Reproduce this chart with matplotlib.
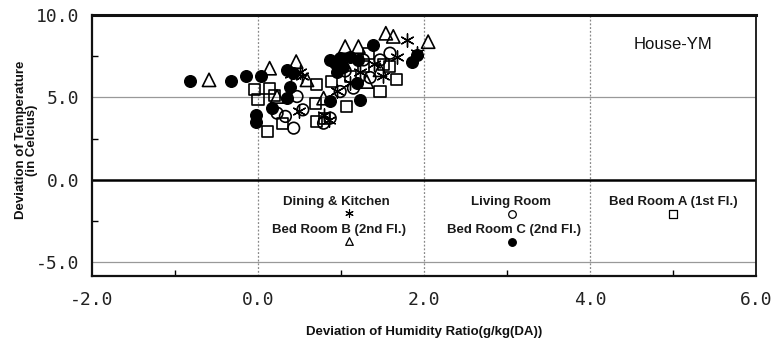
import matplotlib
matplotlib.use("Agg")
import matplotlib.pyplot as plt
from matplotlib.ticker import FixedLocator

# ---------------- data ----------------
# Dining & Kitchen (asterisk)
dk_x = [0.51, 0.53, 0.49, 0.79, 1.79, 1.23, 1.51, 1.67, 1.11, 1.91, 0.95, 1.40, 0.40, 0.85]
dk_y = [6.56, 6.30, 4.14, 3.94, 8.48, 6.56, 6.27, 7.47, 5.86, 7.68, 5.40, 7.00, 6.40, 3.60]
# Living Room (open circle)
lr_x = [0.43, 0.33, 0.47, 0.87, 0.79, 0.99, 1.15, 1.27, 1.47, 1.59, 0.23, 0.54, 1.05, 1.35]
lr_y = [3.13, 3.84, 5.05, 3.74, 3.43, 5.35, 5.56, 7.27, 7.27, 7.68, 4.04, 4.24, 6.60, 6.20]
# Bed Room A (1st Fl.) (open square)
ba_x = [-0.04, 0.00, 0.12, 0.14, 0.30, 0.71, 0.69, 0.71, 1.07, 1.47, 0.89, 1.11,
        1.59, 1.67, 1.27, 1.33, 1.51, 0.80, 0.20]
ba_y = [5.45, 4.85, 2.93, 5.56, 3.43, 5.76, 4.65, 3.53, 4.44, 5.35, 5.96, 6.27,
        6.87, 6.06, 6.87, 7.68, 6.97, 3.70, 5.10]
# Bed Room B (2nd Fl.) (open triangle)
bb_x = [-0.59, 0.14, 0.46, 0.23, 0.59, 1.05, 1.21, 1.54, 2.05, 1.47, 1.31, 0.79, 1.63]
bb_y = [6.06, 6.77, 7.17, 5.05, 6.06, 8.08, 8.08, 8.89, 8.38, 6.67, 5.96, 4.95, 8.70]
# Bed Room C (2nd Fl.) (filled circle)
bc_x = [-0.82, -0.33, -0.14, 0.04, -0.02, -0.02, 0.35, 0.39, 0.35, 0.17, 0.87,
        0.87, 0.99, 1.02, 1.19, 1.23, 1.39, 1.85, 0.95, 1.11, 1.91, 1.21, 0.42, 0.93]
bc_y = [6.02, 6.02, 6.30, 6.30, 3.94, 3.53, 6.67, 5.62, 4.97, 4.36, 4.75,
        7.27, 7.39, 6.87, 5.86, 4.85, 8.18, 7.17, 6.56, 7.47, 7.60, 7.27, 6.45, 7.10]

x_ticks = [-2.0, 0.0, 2.0, 4.0, 6.0]
y_ticks = [-5.0, 0.0, 5.0, 10.0]

# legend entries: label, text position, marker position
leg_labels = ["Dining & Kitchen", "Living Room", "Bed Room A (1st Fl.)",
              "Bed Room B (2nd Fl.)", "Bed Room C (2nd Fl.)"]
leg_text_x = [0.95, 3.05, 5.0, 0.98, 3.08]
leg_text_y = [-1.35, -1.35, -1.35, -3.05, -3.05]
leg_mark_x = [1.10, 3.06, 5.00, 1.10, 3.06]
leg_mark_y = [-2.05, -2.06, -2.06, -3.70, -3.80]

# ---------------- figure ----------------
fig = plt.figure(figsize=(7.76, 3.42), dpi=100)
ax = fig.add_axes([92/776, 1-276/342, (756-92)/776, (276-15)/342])

ax.set_xlim(-2, 6)
ax.set_ylim(-5.85, 10)

# grid lines
for gx in [0, 2, 4]:
    ax.axvline(gx, color="#888888", lw=0.9, ls=(0, (1.5, 1.5)), zorder=1)
for gy in [5, -5]:
    ax.axhline(gy, color="#999999", lw=0.9, zorder=1)
ax.axhline(0, color="black", lw=1.8, zorder=1)

ms = 70
ax.scatter(ba_x, ba_y, s=ms*0.9, marker="s", facecolors="none", edgecolors="black", linewidths=1.2, zorder=3)
ax.scatter(lr_x, lr_y, s=ms, marker="o", facecolors="none", edgecolors="black", linewidths=1.2, zorder=3)
ax.scatter(bb_x, bb_y, s=ms*1.3, marker="^", facecolors="none", edgecolors="black", linewidths=1.2, zorder=3)
ax.scatter(bc_x, bc_y, s=ms, marker="o", facecolors="black", edgecolors="black", linewidths=1.0, zorder=4)
ax.scatter(dk_x, dk_y, s=ms*1.3, marker=(6, 2, 0), color="black", linewidths=1.0, zorder=5)

# in-plot legend
leg_styles = [
    dict(marker=(6, 2, 0), color="black", linewidths=0.8),
    dict(marker="o", facecolors="white", edgecolors="black", linewidths=0.9),
    dict(marker="s", facecolors="white", edgecolors="black", linewidths=0.9),
    dict(marker="^", facecolors="white", edgecolors="black", linewidths=0.9),
    dict(marker="o", facecolors="black", edgecolors="black", linewidths=0.9),
]
for lab, tx, ty, mx, my, st in zip(leg_labels, leg_text_x, leg_text_y,
                                   leg_mark_x, leg_mark_y, leg_styles):
    ax.text(tx, ty, lab, ha="center", va="center", fontsize=9.5,
            family="Liberation Sans", fontweight="bold", color="#1a1a1a", zorder=6)
    ax.scatter([mx], [my], s=30, zorder=6, **st)

ax.text(5.0, 8.2, "House-YM", ha="center", va="center", fontsize=12,
        family="Liberation Sans", color="#111111")

# ticks
ax.set_xticks(x_ticks)
ax.set_yticks(y_ticks)
ax.set_xticklabels([f"{v:.1f}" for v in x_ticks])
ax.set_yticklabels([f"{v:.1f}" for v in y_ticks])
ax.xaxis.set_minor_locator(FixedLocator([-1, 1, 3, 5]))
ax.yaxis.set_minor_locator(FixedLocator([-2.5, 2.5, 7.5]))
ax.tick_params(which="major", length=0, labelsize=13, pad=9)
ax.tick_params(axis="x", which="major", pad=11)
ax.tick_params(which="minor", direction="in", length=4, width=1.0)
for lbl in ax.get_xticklabels() + ax.get_yticklabels():
    lbl.set_family("DejaVu Sans Mono")
    lbl.set_color("#222222")

for side, w in [("top", 2.2), ("left", 1.6), ("bottom", 1.6), ("right", 1.3)]:
    ax.spines[side].set_linewidth(w)
    ax.spines[side].set_color("#111111")

ax.set_xlabel("Deviation of Humidity Ratio(g/kg(DA))", fontsize=9.5,
              family="Liberation Sans", fontweight="bold", labelpad=12, color="#111111")
ax.set_ylabel("Deviation of Temperature\n(in Celcius)", fontsize=9.5,
              family="Liberation Sans", fontweight="bold", linespacing=0.95,
              color="#111111")
ax.yaxis.set_label_coords(-0.081, 0.52)

fig.savefig("out.png", dpi=100)
